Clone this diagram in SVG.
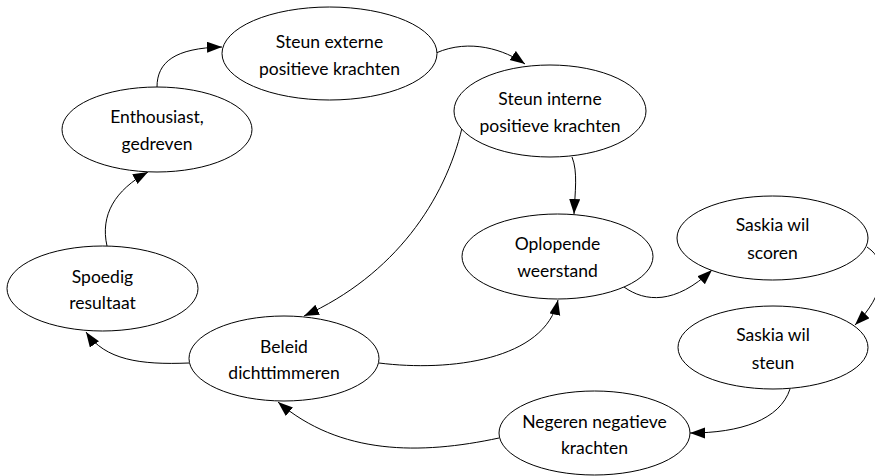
<svg xmlns="http://www.w3.org/2000/svg" width="875" height="476" viewBox="0 0 875 476">
<style>
.n ellipse{fill:#fff;stroke:#000;stroke-width:1}
.n text{font-family:"Lato","Noto Sans",sans-serif;font-size:17.5px;fill:#000;text-anchor:middle}
.e path{fill:none;stroke:#000;stroke-width:1}
</style>
<defs>
<marker id="a" markerUnits="userSpaceOnUse" markerWidth="16" markerHeight="12" refX="15" refY="5.5" orient="auto"><path d="M0,0 L15,5.5 L0,11 Z" fill="#000"/></marker>
</defs>
<rect width="875" height="476" fill="#fff"/>
<g class="e" id="connectors">
<path d="M157,87 C157,62 175,48 222,47" marker-end="url(#a)"/>
<path d="M436,53 C470,38 505,50 525,64" marker-end="url(#a)"/>
<path d="M572,157 C578,172 575,192 574,214" marker-end="url(#a)"/>
<path d="M462,128 C445,200 395,275 304,316" marker-end="url(#a)"/>
<path d="M624,287 C645,302 675,305 712,270" marker-end="url(#a)"/>
<path d="M867,247 C890,262 885,295 855,325" marker-end="url(#a)"/>
<path d="M790,389 C780,420 740,433 690,433" marker-end="url(#a)"/>
<path d="M499,438 C420,455 340,455 278,402" marker-end="url(#a)"/>
<path d="M379,363 C450,372 545,360 558,300" marker-end="url(#a)"/>
<path d="M189,363 C140,365 105,360 86,332" marker-end="url(#a)"/>
<path d="M107,246 C100,215 115,190 148,172" marker-end="url(#a)"/>
</g>
<g class="n" id="steun-externe"><ellipse cx="329.5" cy="53.5" rx="107.5" ry="46.5"/><text x="329.5" y="48">Steun externe</text><text x="329.5" y="75">positieve krachten</text></g>
<g class="n" id="enthousiast"><ellipse cx="157" cy="129.5" rx="95" ry="42.5"/><text x="157" y="123">Enthousiast,</text><text x="157" y="150">gedreven</text></g>
<g class="n" id="steun-interne"><ellipse cx="550" cy="111" rx="96" ry="46"/><text x="550" y="105">Steun interne</text><text x="550" y="132">positieve krachten</text></g>
<g class="n" id="oplopende"><ellipse cx="557.5" cy="256.5" rx="95.5" ry="42.5"/><text x="557.5" y="250">Oplopende</text><text x="557.5" y="277">weerstand</text></g>
<g class="n" id="saskia-scoren"><ellipse cx="772.5" cy="238" rx="95.5" ry="42"/><text x="772.5" y="231">Saskia wil</text><text x="772.5" y="259">scoren</text></g>
<g class="n" id="saskia-steun"><ellipse cx="773" cy="347.5" rx="95" ry="41.5"/><text x="773" y="341">Saskia wil</text><text x="773" y="369">steun</text></g>
<g class="n" id="negeren"><ellipse cx="594.5" cy="433" rx="95.5" ry="42"/><text x="594.5" y="428">Negeren negatieve</text><text x="594.5" y="454">krachten</text></g>
<g class="n" id="spoedig"><ellipse cx="102.5" cy="288.5" rx="95.5" ry="42.5"/><text x="102.5" y="283">Spoedig</text><text x="102.5" y="309">resultaat</text></g>
<g class="n" id="beleid"><ellipse cx="284" cy="358.5" rx="95" ry="42.5"/><text x="284" y="353">Beleid</text><text x="284" y="379">dichttimmeren</text></g>
</svg>
